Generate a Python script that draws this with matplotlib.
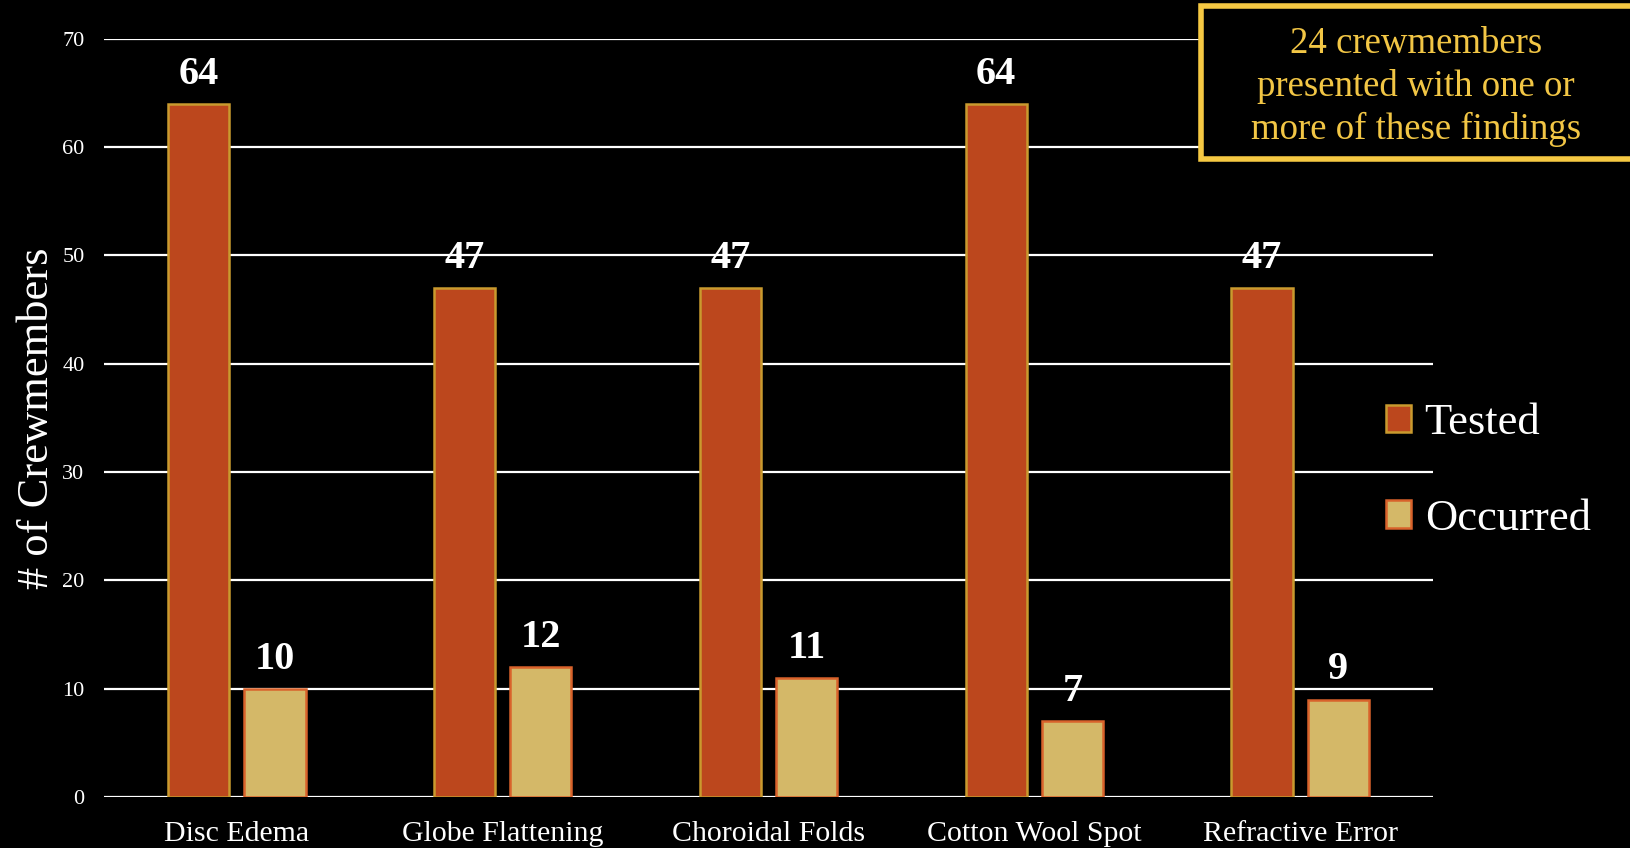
import matplotlib
matplotlib.use("Agg")
import matplotlib.pyplot as plt
import numpy as np
from matplotlib.patches import Rectangle, Patch

categories = ["Disc Edema", "Globe Flattening", "Choroidal Folds", "Cotton Wool Spot", "Refractive Error"]
tested = [64, 47, 47, 64, 47]
occurred = [10, 12, 11, 7, 9]
yticks = [0, 10, 20, 30, 40, 50, 60, 70]
note = "24 crewmembers\npresented with one or\nmore of these findings"

plt.rcParams['font.family'] = ['Liberation Serif', 'DejaVu Serif']

W, H = 1631, 848
fig = plt.figure(figsize=(W / 100, H / 100), dpi=100, facecolor='black')
ax = fig.add_axes([104 / W, 1 - 797 / H, (1433 - 104) / W, (797 - 38.7) / H])
ax.set_facecolor('black')

x = np.arange(len(categories))
bw = 0.23
off = 0.1435
tested_fill, tested_edge = '#BC471D', '#C99A2E'
occ_fill, occ_edge = '#D4B868', '#D9622B'

b1 = ax.bar(x - off, tested, bw, color=tested_fill, edgecolor=tested_edge, linewidth=1.8, zorder=3)
b2 = ax.bar(x + off, occurred, bw, color=occ_fill, edgecolor=occ_edge, linewidth=1.8, zorder=3)

for bars, vals in ((b1, tested), (b2, occurred)):
    for rect, v in zip(bars, vals):
        ax.annotate(str(v), (rect.get_x() + rect.get_width() / 2, v), xytext=(0, 8),
                    textcoords='offset points', ha='center', va='bottom',
                    color='white', fontsize=29, fontweight='bold')

ax.set_xlim(-0.5, len(categories) - 0.5)
ax.set_ylim(0, 70)
ax.set_yticks(yticks)
ax.set_yticklabels([str(t) for t in yticks])
ax.set_xticks(x)
ax.set_xticklabels(categories)
ax.tick_params(axis='y', colors='white', labelsize=16, length=0, pad=14)
ax.tick_params(axis='x', colors='white', labelsize=21.5, length=0, pad=17)
ax.yaxis.grid(True, color='white', linewidth=1.6, zorder=0)
ax.set_axisbelow(True)
for s in ax.spines.values():
    s.set_visible(False)

ax.set_ylabel('# of Crewmembers', color='white', fontsize=32, labelpad=4)

handles = [Patch(facecolor=tested_fill, edgecolor=tested_edge, linewidth=1.8, label='Tested'),
           Patch(facecolor=occ_fill, edgecolor=occ_edge, linewidth=1.8, label='Occurred')]
leg = fig.legend(handles=handles, loc='center left', bbox_to_anchor=(1386 / W, 1 - 471 / H),
                 frameon=False, fontsize=32, handlelength=0.57, handleheight=0.57,
                 handletextpad=0.3, labelspacing=1.25, borderpad=0, borderaxespad=0)
for t in leg.get_texts():
    t.set_color('white')

fig.patches.append(Rectangle((1201 / W, 1 - 159 / H), (1640 - 1201) / W, (159 - 6) / H,
                             transform=fig.transFigure, facecolor='black',
                             edgecolor='#F5C842', linewidth=4, zorder=5))
fig.text(1416 / W, 1 - 87 / H, note, ha='center', va='center', color='#F2C645',
         fontsize=26.5, linespacing=1.3, zorder=6)

fig.savefig('out.png', dpi=100, facecolor='black')
